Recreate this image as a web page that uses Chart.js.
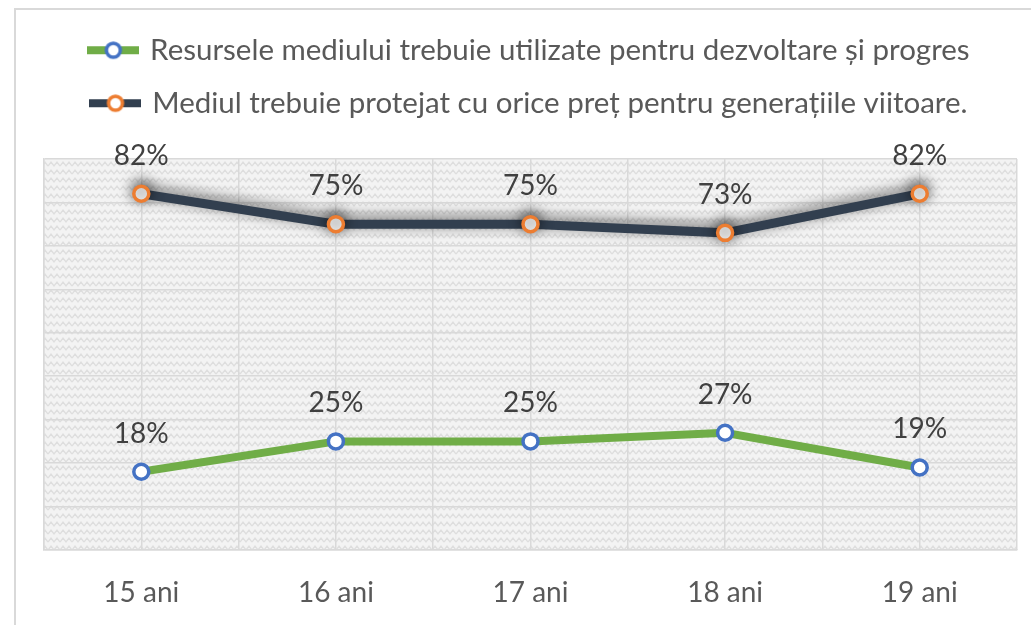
<!DOCTYPE html>
<html>
<head>
<meta charset="utf-8">
<script src="https://cdn.jsdelivr.net/npm/chart.js@4.4.1/dist/chart.umd.min.js"></script>
<style>
  html, body { margin: 0; padding: 0; background: #fff; }
  #wrap { position: relative; width: 1031px; height: 625px; overflow: hidden; }
  #frame { position: absolute; left: 14px; top: 8px; width: 1100px; height: 700px; border: 2px solid #d9d9d9; box-sizing: border-box; }
  canvas { position: absolute; left: 0; top: 0; }
</style>
</head>
<body>
<div id="wrap">
  <div id="frame"></div>
  <canvas id="chart" width="1031" height="625"></canvas>
</div>
<script>
const categories = ['15 ani', '16 ani', '17 ani', '18 ani', '19 ani'];
const resurseValues = [18, 25, 25, 27, 19];
const protejatValues = [82, 75, 75, 73, 82];
const seriesNames = [
  'Resursele mediului trebuie utilizate pentru dezvoltare și progres',
  'Mediul trebuie protejat cu orice preț pentru generațiile viitoare.'
];

const FONT = 'Lato, "Liberation Sans", sans-serif';

// hatched background for the plot area
function makePattern() {
  const c = document.createElement('canvas');
  c.width = 12; c.height = 8;
  const g = c.getContext('2d');
  g.fillStyle = '#f3f3f3';
  g.fillRect(0, 0, 12, 8);
  g.strokeStyle = '#dedede';
  g.lineWidth = 1.3;
  g.beginPath();
  g.moveTo(0, 6); g.lineTo(3, 2); g.lineTo(6, 6); g.lineTo(9, 2); g.lineTo(12, 6);
  g.stroke();
  return g.createPattern(c, 'repeat');
}

// legend symbol: line with hollow marker
function legendSymbol(lineColor, markerColor) {
  const c = document.createElement('canvas');
  c.width = 52; c.height = 22;
  const g = c.getContext('2d');
  g.fillStyle = lineColor;
  g.fillRect(0, 7, 52, 8);
  g.beginPath();
  g.arc(26, 11, 7, 0, Math.PI * 2);
  g.fillStyle = '#fff';
  g.fill();
  g.lineWidth = 3.5;
  g.strokeStyle = markerColor;
  g.stroke();
  return c;
}

const bgPlugin = {
  id: 'plotBg',
  beforeDraw(chart) {
    const { ctx, chartArea: a } = chart;
    ctx.save();
    ctx.fillStyle = makePattern();
    ctx.fillRect(a.left, a.top, a.right - a.left, a.bottom - a.top);
    ctx.restore();
  }
};

const shadowPlugin = {
  id: 'lineShadow',
  beforeDatasetDraw(chart, args) {
    if (args.index !== 1) return;
    const ctx = chart.ctx;
    ctx.save();
    ctx.shadowColor = 'rgba(0,0,0,0.6)';
    ctx.shadowBlur = 14;
    ctx.shadowOffsetX = 0;
    ctx.shadowOffsetY = -3;
  },
  afterDatasetDraw(chart, args) {
    if (args.index !== 1) return;
    chart.ctx.restore();
  }
};

const labelPlugin = {
  id: 'pointLabels',
  afterDatasetsDraw(chart) {
    const ctx = chart.ctx;
    ctx.save();
    ctx.font = '28px ' + FONT;
    ctx.fillStyle = '#404040';
    ctx.textAlign = 'center';
    ctx.textBaseline = 'middle';
    chart.data.datasets.forEach((ds, i) => {
      chart.getDatasetMeta(i).data.forEach((pt, j) => {
        ctx.fillText(ds.data[j] + '%', pt.x, pt.y - 38);
      });
    });
    ctx.restore();
  }
};

const symbols = [legendSymbol('#70ad47', '#4472c4'), legendSymbol('#323f4f', '#ed7d31')];

new Chart(document.getElementById('chart'), {
  type: 'line',
  data: {
    labels: categories,
    datasets: [
      {
        label: seriesNames[0],
        data: resurseValues,
        borderColor: '#70ad47',
        borderWidth: 8,
        pointRadius: 7.5,
        pointBorderWidth: 3.5,
        pointBackgroundColor: '#fff',
        pointBorderColor: '#4472c4',
        tension: 0
      },
      {
        label: seriesNames[1],
        data: protejatValues,
        borderColor: '#323f4f',
        borderWidth: 9,
        pointRadius: 7.5,
        pointBorderWidth: 3.5,
        pointBackgroundColor: '#fff',
        pointBorderColor: '#ed7d31',
        tension: 0
      }
    ]
  },
  options: {
    responsive: false,
    animation: false,
    layout: { padding: { left: 44, right: 14, top: 12, bottom: 13 } },
    plugins: {
      tooltip: { enabled: false },
      legend: {
        position: 'top',
        labels: {
          usePointStyle: true,
          pointStyleWidth: 44,
          padding: 23.5,
          color: '#595959',
          font: { family: FONT, size: 29.5 },
          generateLabels(chart) {
            return chart.data.datasets.map((ds, i) => ({
              text: ds.label,
              pointStyle: symbols[i],
              fillStyle: 'transparent',
              strokeStyle: 'transparent',
              lineWidth: 0,
              fontColor: '#595959',
              datasetIndex: i
            }));
          }
        }
      }
    },
    scales: {
      x: {
        type: 'category',
        offset: true,
        grid: { offset: false, color: '#d9d9d9', lineWidth: 1.5, drawTicks: false },
        border: { color: '#d9d9d9', width: 1.5 },
        ticks: { color: '#595959', padding: 26, font: { family: FONT, size: 28 } },
        afterFit(scale) { scale.height = 62; }
      },
      x2: {
        type: 'category',
        labels: categories,
        position: 'top',
        offset: true,
        grid: { offset: true, color: '#d9d9d9', lineWidth: 1.5, drawTicks: false },
        border: { display: false },
        ticks: { display: false },
        afterFit(scale) { scale.height = 31; }
      },
      y: {
        min: 0,
        max: 90,
        ticks: { stepSize: 10, display: false },
        grid: { color: '#d9d9d9', lineWidth: 1.5, drawTicks: false },
        border: { color: '#d9d9d9', width: 1.5 }
      }
    }
  },
  plugins: [bgPlugin, shadowPlugin, labelPlugin]
});
</script>
</body>
</html>
